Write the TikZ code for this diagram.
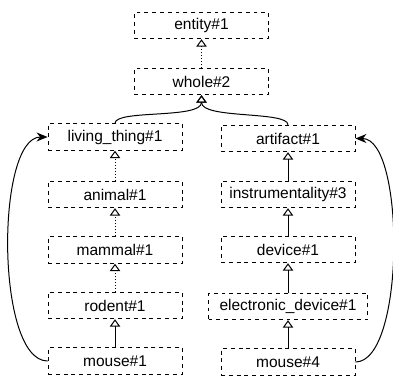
\documentclass[tikz,border=0pt]{standalone}
\usepackage{fontspec}
\setmainfont{Liberation Sans}
\usepackage{tikz}
\usetikzlibrary{positioning,calc,arrows.meta}

\begin{document}
\begin{tikzpicture}[x=1pt, y=-1pt,
	syn/.style={draw, dash pattern=on 3.9pt off 3.9pt, line width=0.9pt, minimum width=134pt, minimum height=26.5pt, inner xsep=5pt, inner ysep=0pt, font=\fontsize{15.5}{18}\selectfont},
	isa/.style={draw, line width=1pt, -{Triangle[open, length=7.5pt, width=10.5pt]}},
	weak/.style={isa, dotted},
	sense/.style={draw, line width=1pt, -{Stealth[length=11pt, width=9pt]}}]
	\useasboundingbox (0,0) rectangle (393,376);
	\node [syn] (ent) at (201.5, 25.5) {entity\#1};
	\node [syn] (whole) at (201.5, 81.5) {whole\#2};
	% left branch
	\node [syn] (lt) at (115, 137) {living\_thing\#1};
	\node [syn] (an) at (115, 194.5) {animal\#1};
	\node [syn] (mam) at (115, 250) {mammal\#1};
	\node [syn] (rod) at (115, 305.5) {rodent\#1};
	\node [syn] (m1) at (115, 361) {mouse\#1};
	% right branch
	\node [syn] (art) at (288, 138.5) {artifact\#1};
	\node [syn] (ins) at (288, 194.5) {instrumentality\#3};
	\node [syn] (dev) at (288, 249.5) {device\#1};
	\node [syn, minimum width=159pt] (ed) at (288, 306.5) {electronic\_device\#1};
	\node [syn] (m4) at (288, 362) {mouse\#4};

	\path [weak] (whole) -- (ent);
	\path [isa] (lt.north) .. controls +(0,-14) and +(0,24) .. (whole.south);
	\path [isa] (art.north) .. controls +(0,-14) and +(0,24) .. (whole.south);

	\path [weak] (an) -- (lt);
	\path [weak] (mam) -- (an);
	\path [weak] (rod) -- (mam);
	\path [isa] (m1) -- (rod);

	\path [isa] (ins) -- (art);
	\path [isa] (dev) -- (ins);
	\path [isa] (ed) -- (dev);
	\path [isa] (m4) -- (ed);

	\path [sense] (m1.west) .. controls +(-52,0) and +(-52,0) .. (lt.west);
	\path [sense] (m4.east) .. controls +(50,0) and +(50,0) .. (art.east);
\end{tikzpicture}
\end{document}
